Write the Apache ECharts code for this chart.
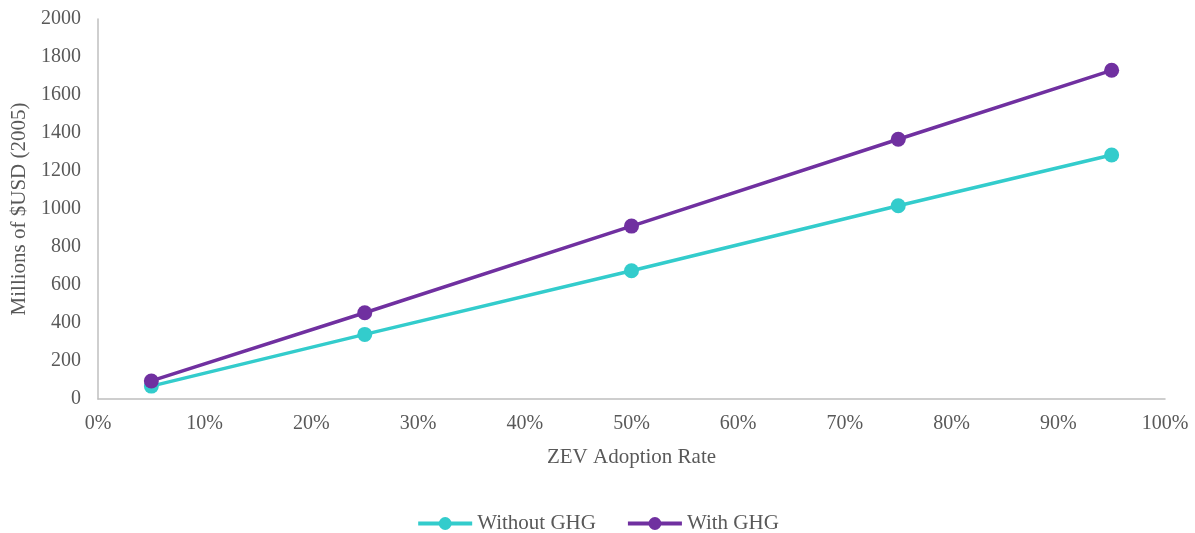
<!DOCTYPE html>
<html>
<head>
<meta charset="utf-8">
<script src="https://cdn.jsdelivr.net/npm/echarts@6/dist/echarts.min.js"></script>
<style>
  html, body { margin: 0; padding: 0; background: #fff; }
  #chart { width: 1195px; height: 533px; }
</style>
</head>
<body>
<div id="chart"></div>
<script>
// ZEV adoption rate (%) and cost in millions of 2005 USD
const adoptionRates = [5, 25, 50, 75, 95];
const withoutGhg = [68, 340, 675, 1017, 1284];
const withGhg = [95, 454, 910, 1367, 1730];
const seriesNames = ['Without GHG', 'With GHG'];
const seriesColors = ['#33CCCC', '#7030A0'];

const textColor = '#595959';
const fontFamily = '"Liberation Serif", "Times New Roman", serif';

const chart = echarts.init(document.getElementById('chart'));

function toPoints(values) {
  return adoptionRates.map((x, i) => [x, values[i]]);
}

chart.setOption({
  animation: false,
  textStyle: { fontFamily: fontFamily, color: textColor },
  grid: { left: 98, right: 30, top: 19, bottom: 134, containLabel: false },
  xAxis: {
    type: 'value',
    min: 0,
    max: 100,
    interval: 10,
    name: 'ZEV Adoption Rate',
    nameLocation: 'middle',
    nameGap: 48,
    nameTextStyle: { fontSize: 21, color: textColor, fontFamily: fontFamily },
    axisLine: { show: true, lineStyle: { color: '#BFBFBF', width: 1.5 } },
    axisTick: { show: false },
    splitLine: { show: false },
    axisLabel: {
      formatter: v => v + '%',
      fontSize: 20,
      color: textColor,
      fontFamily: fontFamily,
      margin: 15
    }
  },
  yAxis: {
    type: 'value',
    min: 0,
    max: 2000,
    interval: 200,
    name: 'Millions of $USD (2005)',
    nameLocation: 'middle',
    nameGap: 68,
    nameRotate: 90,
    nameTextStyle: { fontSize: 21, color: textColor, fontFamily: fontFamily },
    axisLine: { show: true, lineStyle: { color: '#BFBFBF', width: 1.5 } },
    axisTick: { show: false },
    splitLine: { show: false },
    axisLabel: {
      formatter: v => String(v),
      fontSize: 20,
      color: textColor,
      fontFamily: fontFamily,
      margin: 17
    }
  },
  legend: {
    top: 508,
    left: 'center',
    itemWidth: 54,
    itemHeight: 16,
    itemGap: 30,
    lineStyle: { width: 4 },
    textStyle: { fontSize: 21, color: textColor, fontFamily: fontFamily },
    data: seriesNames
  },
  series: [
    {
      name: seriesNames[0],
      type: 'line',
      data: toPoints(withoutGhg),
      symbol: 'circle',
      symbolSize: 15,
      lineStyle: { width: 3.5, color: seriesColors[0] },
      itemStyle: { color: seriesColors[0] }
    },
    {
      name: seriesNames[1],
      type: 'line',
      data: toPoints(withGhg),
      symbol: 'circle',
      symbolSize: 15,
      lineStyle: { width: 3.5, color: seriesColors[1] },
      itemStyle: { color: seriesColors[1] }
    }
  ]
});
</script>
</body>
</html>
